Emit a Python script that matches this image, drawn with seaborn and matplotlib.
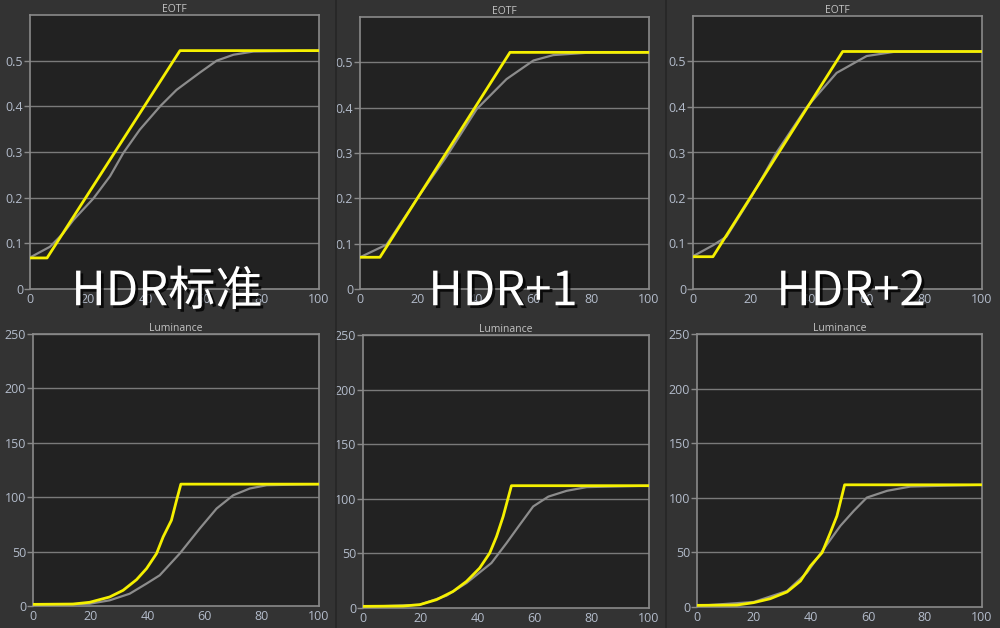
import matplotlib
matplotlib.use("Agg")
import matplotlib.pyplot as plt
import matplotlib.patheffects as pe
import seaborn as sns

# ---- data ----
modes = ["HDR标准", "HDR+1", "HDR+2"]

# EOTF target (grey) curves
eotf_ref_x = [
    [0, 6.9, 11.5, 15, 21.9, 27.7, 32.3, 38, 45, 50.7, 58.8, 64.6, 70.4, 77.3, 100],
    [0, 9.2, 19.6, 30, 40.4, 50.7, 60, 66.9, 78.4, 100],
    [0, 6.9, 11.6, 19.7, 28.9, 39.3, 49.7, 60.1, 69.4, 100],
]
eotf_ref_y = [
    [0.069, 0.0925, 0.122, 0.151, 0.198, 0.247, 0.298, 0.349, 0.40, 0.436, 0.474, 0.50, 0.513, 0.520, 0.522],
    [0.070, 0.098, 0.198, 0.293, 0.397, 0.463, 0.504, 0.516, 0.521, 0.522],
    [0.072, 0.096, 0.115, 0.197, 0.30, 0.399, 0.475, 0.512, 0.521, 0.522],
]
# EOTF measured (yellow) curves
eotf_meas_x = [
    [0, 5.9, 51.9, 100],
    [0, 6.9, 51.9, 100],
    [0, 6.9, 51.8, 100],
]
eotf_meas_y = [
    [0.068, 0.068, 0.522, 0.522],
    [0.070, 0.070, 0.522, 0.522],
    [0.071, 0.071, 0.522, 0.522],
]

# Luminance target (grey) curves
lum_ref_x = [
    [0, 19.8, 26.8, 33.8, 39.7, 44.3, 51.3, 58.3, 64.2, 70, 75.8, 81.7, 100],
    [0, 19.8, 29.2, 36.2, 44.9, 50.2, 54.8, 59.5, 64.8, 71.2, 78.2, 100],
    [0, 19.9, 31.6, 38.6, 44.4, 50.3, 55, 59.6, 66.7, 74.9, 100],
]
lum_ref_y = [
    [1.0, 2.1, 5.2, 11.3, 20.6, 28.2, 48.2, 71.2, 89.6, 101.8, 108, 111, 112],
    [1.0, 3.0, 11.3, 22.9, 41.2, 59.5, 76.2, 93, 102, 107.3, 110.7, 112],
    [1.0, 4.6, 14.7, 31.5, 52.9, 74.3, 88, 100.2, 106.4, 110.3, 111.9],
]
# Luminance measured (yellow) curves
lum_meas_x = [
    [0, 14, 19.8, 26.8, 31.5, 36.2, 39.7, 43.2, 45.5, 48.4, 50.2, 51.7, 100],
    [0, 14, 19.8, 25.7, 31.5, 36.2, 40.8, 44.3, 46.7, 49, 51.9, 100],
    [0, 14, 19.9, 25.7, 31.6, 36.3, 39.8, 43.9, 46.8, 49.1, 51.8, 100],
]
lum_meas_y = [
    [1.5, 1.8, 3.4, 8.3, 14.4, 24.2, 34.4, 48.2, 63.5, 78.8, 97.2, 112, 112],
    [1.5, 1.8, 3.0, 7.6, 15.2, 24.4, 36.6, 50.3, 65.5, 83.8, 112, 112],
    [1.5, 1.8, 4.0, 7.6, 13.8, 23.8, 37.6, 49.8, 68.2, 83.4, 111.9, 111.9],
]

eotf_ticks = [0, 0.1, 0.2, 0.3, 0.4, 0.5]
eotf_labels = ["0", "0.1", "0.2", "0.3", "0.4", "0.5"]
lum_ticks = [0, 50, 100, 150, 200, 250]
x_ticks = [0, 20, 40, 60, 80, 100]

# ---- style ----
sns.set_style("dark", {"axes.facecolor": "#222222", "figure.facecolor": "#333333"})
plt.rcParams["font.family"] = ["Open Sans", "DejaVu Sans"]

W, H = 1000, 628
fig = plt.figure(figsize=(W / 100, H / 100), dpi=100)
fig.patch.set_facecolor("#333333")

# axes boxes in pixels: left, top, right, bottom
top_boxes = [(30, 15, 319, 289), (360, 17, 649, 289), (693, 16, 982, 289)]
bot_boxes = [(33, 334, 319, 606), (363, 335, 649, 608), (697, 334, 982, 607)]

yellow = "#f5f000"
grey = "#8c8c8c"
tick_col = "#b3bccb"


def make_ax(box):
    l, t, r, b = box
    return fig.add_axes([l / W, 1 - b / H, (r - l) / W, (b - t) / H])


def style_ax(ax, title, yticks, ylabels, ylim):
    ax.set_facecolor("#222222")
    ax.set_xlim(0, 100)
    ax.set_ylim(*ylim)
    ax.set_xticks(x_ticks)
    ax.set_yticks(yticks)
    ax.set_yticklabels(ylabels)
    ax.set_xlabel("")
    ax.set_ylabel("")
    ax.grid(False)
    for y in yticks[1:]:
        ax.axhline(y, color="#7a7a7a", lw=1.0, zorder=1)
    for s in ax.spines.values():
        s.set_color("#8a8a8a")
        s.set_linewidth(1.2)
    ax.tick_params(axis="y", length=4, width=1, color="#8a8a8a", pad=1,
                   labelsize=9, labelcolor=tick_col, left=True)
    ax.tick_params(axis="x", length=0, pad=3, labelsize=9, labelcolor=tick_col)
    ax.set_title(title, color="#c4c4c4", fontsize=7.5, pad=2)


for i in range(3):
    ax = make_ax(top_boxes[i])
    sns.lineplot(x=eotf_ref_x[i], y=eotf_ref_y[i], ax=ax, color=grey, lw=1.6, zorder=3)
    sns.lineplot(x=eotf_meas_x[i], y=eotf_meas_y[i], ax=ax, color=yellow, lw=2.0, zorder=4)
    style_ax(ax, "EOTF", eotf_ticks, eotf_labels, (0, 0.6))

    ax = make_ax(bot_boxes[i])
    sns.lineplot(x=lum_ref_x[i], y=lum_ref_y[i], ax=ax, color=grey, lw=1.6, zorder=3)
    sns.lineplot(x=lum_meas_x[i], y=lum_meas_y[i], ax=ax, color=yellow, lw=2.0, zorder=4)
    style_ax(ax, "Luminance", lum_ticks, [str(v) for v in lum_ticks], (0, 250))

# column separators
for xs in (336, 666):
    fig.add_artist(plt.Line2D([xs / W, xs / W], [0, 1], color="#262626", lw=1.2))

# big mode labels
label_x = [167, 503, 851]
for name, xc in zip(modes, label_x):
    fig.text(xc / W, 1 - 292 / H, name, ha="center", va="center", color="white",
             fontsize=34, family=["Noto Sans CJK SC", "DejaVu Sans"], zorder=20,
             path_effects=[pe.withSimplePatchShadow(offset=(2, -2), shadow_rgbFace="#000000", alpha=0.8)])

fig.savefig("out.png", dpi=100, facecolor=fig.get_facecolor())
